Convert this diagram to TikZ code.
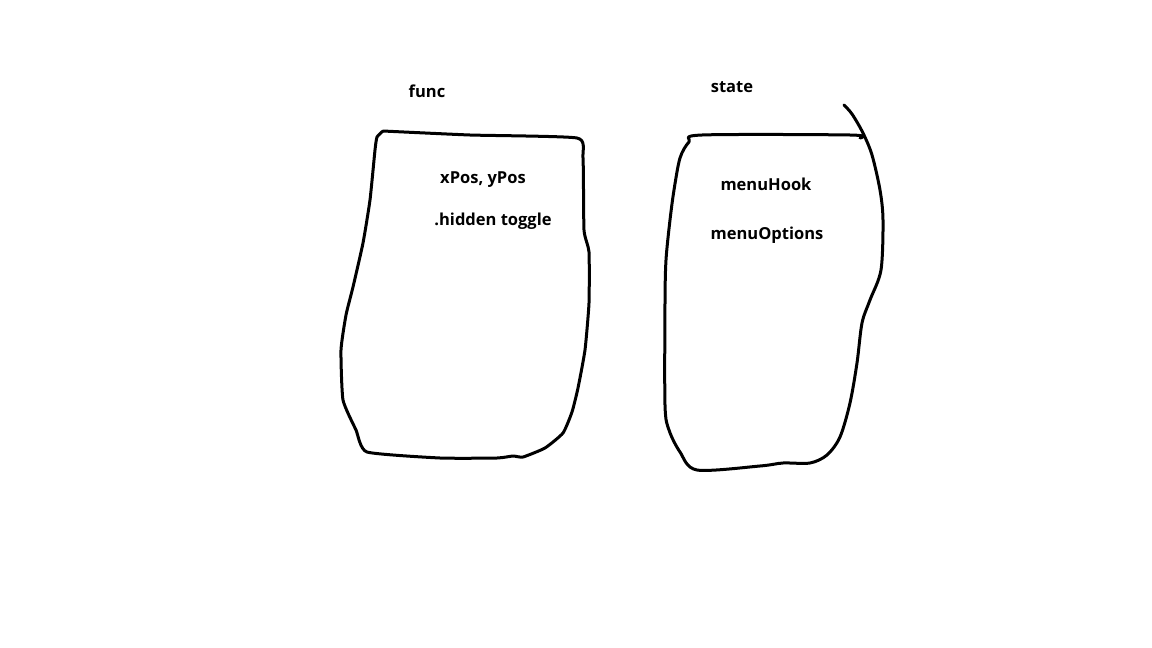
\documentclass[tikz,border=0pt]{standalone}
\usepackage{fontspec}
\setmainfont{Open Sans}
\usetikzlibrary{positioning}

\tikzset{
  blob/.style={line width=3pt, line join=round, line cap=round},
  lbl/.style={font=\fontsize{16.5}{18}\selectfont\bfseries, inner sep=0pt}
}

\begin{document}
\begin{tikzpicture}[x=1pt,y=-1pt]
  \useasboundingbox[fill=white] (0,0) rectangle (1152,648);

  \node[lbl] (func) at (427,91) {func};
  \node[lbl] (state) at (732,87) {state};

  \node[lbl] (pos) at (483,180) {xPos, yPos};
  \node[lbl] (hidden) at (493,221) {.hidden toggle};

  \node[lbl] (hook) at (766,184) {menuHook};
  \node[lbl] (opts) at (767,235) {menuOptions};

  % func box
  \draw[blob] plot[smooth, tension=0.3] coordinates {
    (383,131) (470,135) (577,138) (583,158) (584,230) (589,252) (589,303)
    (585,350) (578,388) (572,412) (563,433) (545,448) (523,457) (513,456)
    (497,458) (440,458) (367,452) (356,430) (343,400) (341,350) (346,315)
    (353,287) (363,243) (370,200) (375,150) (377,137) (383,131)};

  % state box
  \draw[blob] plot[smooth, tension=0.5] coordinates {
    (860,138) (850,135) (702,135) (689,142) (680,158) (674,190) (670,220)
    (666,260) (665,303) (665,405) (669,430) (680,452) (697,470) (760,466)
    (783,463) (810,463) (827,455) (840,437) (850,403) (857,363) (862,323)
    (870,300) (881,270) (883,220) (880,190) (872,155) (863,133) (852,114)
    (844,105)};
\end{tikzpicture}
\end{document}
